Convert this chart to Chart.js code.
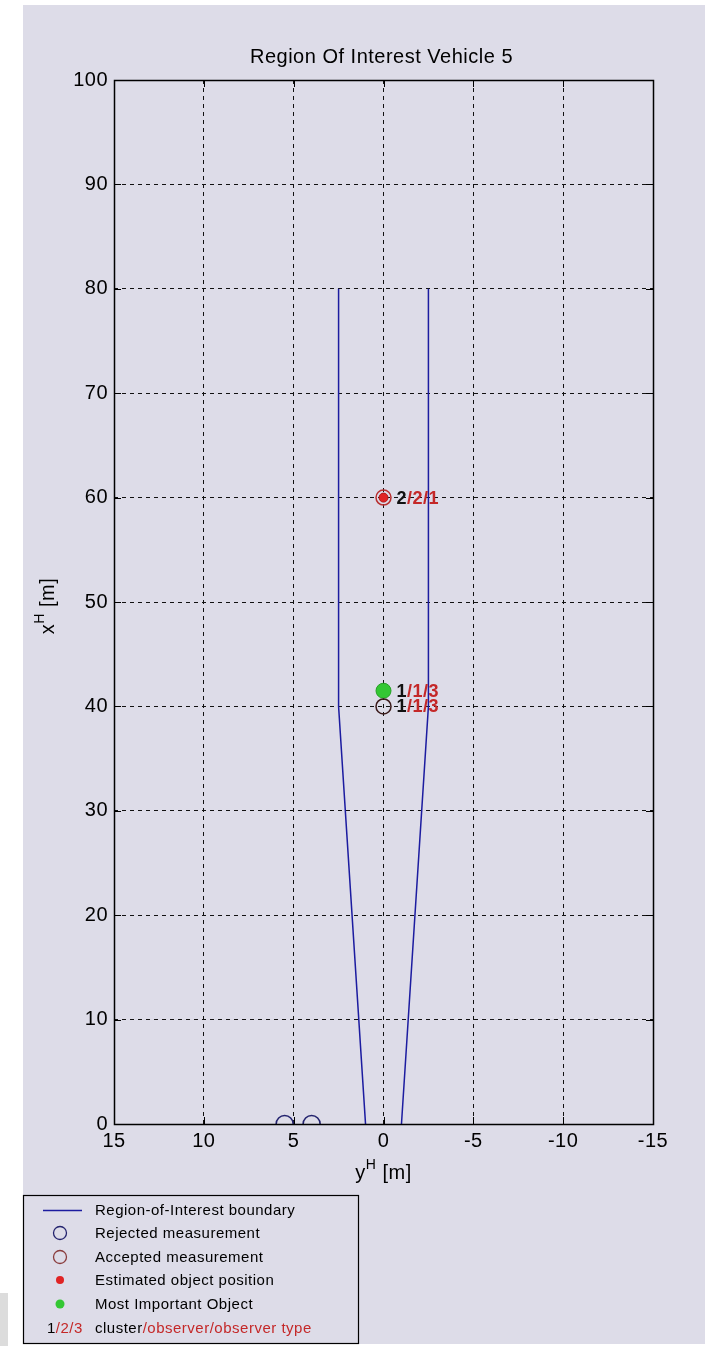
<!DOCTYPE html>
<html>
<head>
<meta charset="utf-8">
<script src="https://cdn.jsdelivr.net/npm/chart.js@4.4.1/dist/chart.umd.min.js"></script>
<style>
  html, body { margin: 0; padding: 0; background: #ffffff; }
  #wrap { width: 706px; height: 1346px; }
  canvas { display: block; }
</style>
</head>
<body>
<div id="wrap"><canvas id="c" width="706" height="1346"></canvas></div>
<script>
// ---- Data (horizontal axis = yH [m], vertical axis = xH [m]) ----
const xTickValues = [15, 10, 5, 0, -5, -10, -15];
const yTickValues = [0, 10, 20, 30, 40, 50, 60, 70, 80, 90, 100];

const roiLeftYH  = [1.0, 2.5, 2.5];
const roiLeftXH  = [0, 40, 80];
const roiRightYH = [-1.0, -2.5, -2.5];
const roiRightXH = [0, 40, 80];

const rejectedYH = [5.5, 4.0];
const rejectedXH = [0, 0];

const acceptedYH = [0, 0];
const acceptedXH = [60, 40];

const estimatedYH = [0];
const estimatedXH = [60];

const mioYH = [0];
const mioXH = [41.5];

const labelYH = [0, 0, 0];
const labelXH = [60, 41.5, 40];
const labelCluster = ['2', '1', '1'];
const labelRest = ['/2/1', '/1/3', '/1/3'];

const legendTexts = [
  'Region-of-Interest boundary',
  'Rejected measurement',
  'Accepted measurement',
  'Estimated object position',
  'Most Important Object'
];

const titleText = 'Region Of Interest Vehicle 5';

// ---- Styles ----
const FONT = '"Liberation Sans", Arial, sans-serif';
const BG = '#dddce8';
const ROI_COLOR = '#1c1ca0';
const REJ_COLOR = '#23236e';
const EST_COLOR = '#e02424';
const MIO_COLOR = '#33c733';
const RED_TXT = '#c42828';

function pts(xs, ys) { return xs.map((v, i) => ({ x: v, y: ys[i] })); }

const datasets = [
  { label: 'ROI left', data: pts(roiLeftYH, roiLeftXH), showLine: true, borderColor: ROI_COLOR, borderWidth: 1.5, pointRadius: 0, fill: false },
  { label: 'ROI right', data: pts(roiRightYH, roiRightXH), showLine: true, borderColor: ROI_COLOR, borderWidth: 1.5, pointRadius: 0, fill: false },
  { label: 'Rejected', data: pts(rejectedYH, rejectedXH), pointRadius: 8.5, pointBackgroundColor: 'rgba(0,0,0,0)', pointBorderColor: REJ_COLOR, pointBorderWidth: 1.6, showLine: false },
  { label: 'Accepted', data: pts(acceptedYH, acceptedXH), pointRadius: 7.5, pointBackgroundColor: 'rgba(0,0,0,0)', pointBorderColor: [ '#b83030', '#3a1a1a' ], pointBorderWidth: 1.5, showLine: false },
  { label: 'Estimated', data: pts(estimatedYH, estimatedXH), pointRadius: 4.5, pointBackgroundColor: EST_COLOR, pointBorderColor: '#b01515', pointBorderWidth: 1, showLine: false },
  { label: 'MIO', data: pts(mioYH, mioXH), pointRadius: 7.5, pointBackgroundColor: MIO_COLOR, pointBorderColor: '#25a025', pointBorderWidth: 1, showLine: false }
];

const decor = {
  id: 'decor',
  beforeDraw(chart) {
    const ctx = chart.ctx;
    ctx.save();
    ctx.fillStyle = '#ffffff';
    ctx.fillRect(0, 0, 706, 1346);
    ctx.fillStyle = BG;
    ctx.fillRect(23, 5, 682, 1339);
    ctx.fillStyle = '#dcdcdc';
    ctx.fillRect(0, 1293, 8, 53);
    ctx.restore();
    try { ctx.letterSpacing = '0.5px'; } catch (e) {}
  },
  afterDraw(chart) {
    const ctx = chart.ctx;
    const a = chart.chartArea;
    const xs = chart.scales.x, ys = chart.scales.y;
    ctx.save();
    try { ctx.letterSpacing = '0px'; } catch (e) {}
    // axes box
    ctx.strokeStyle = '#000';
    ctx.lineWidth = 1.5;
    ctx.setLineDash([]);
    ctx.strokeRect(Math.round(a.left) + 0.5, Math.round(a.top) + 0.5, Math.round(a.right - a.left), Math.round(a.bottom - a.top));
    // inward ticks
    ctx.lineWidth = 1;
    const T = 7;
    ctx.beginPath();
    xTickValues.forEach(v => {
      const px = Math.round(xs.getPixelForValue(v)) + 0.5;
      ctx.moveTo(px, a.bottom); ctx.lineTo(px, a.bottom - T);
      ctx.moveTo(px, a.top); ctx.lineTo(px, a.top + T);
    });
    yTickValues.forEach(v => {
      const py = Math.round(ys.getPixelForValue(v)) + 0.5;
      ctx.moveTo(a.left, py); ctx.lineTo(a.left + T, py);
      ctx.moveTo(a.right, py); ctx.lineTo(a.right - T, py);
    });
    ctx.stroke();

    // title
    try { ctx.letterSpacing = '0.5px'; } catch (e) {}
    ctx.fillStyle = '#000';
    ctx.font = '20px ' + FONT;
    ctx.textAlign = 'center';
    ctx.textBaseline = 'middle';
    ctx.fillText(titleText, (a.left + a.right) / 2 - 2, 57);

    // axis titles with superscript
    function supTitle(base, sup, rest, cx, baseY) {
      ctx.textAlign = 'left';
      ctx.textBaseline = 'alphabetic';
      ctx.font = '20px ' + FONT;
      const w1 = ctx.measureText(base).width;
      const w3 = ctx.measureText(rest).width;
      ctx.font = '14px ' + FONT;
      const w2 = ctx.measureText(sup).width;
      const total = w1 + w2 + w3;
      let x = cx - total / 2;
      ctx.font = '20px ' + FONT;
      ctx.fillText(base, x, baseY); x += w1;
      ctx.font = '14px ' + FONT;
      ctx.fillText(sup, x, baseY - 10); x += w2;
      ctx.font = '20px ' + FONT;
      ctx.fillText(rest, x, baseY);
    }
    ctx.fillStyle = '#000';
    supTitle('y', 'H', ' [m]', (a.left + a.right) / 2, 1179);
    ctx.save();
    ctx.translate(54, (a.top + a.bottom) / 2 + 4);
    ctx.rotate(-Math.PI / 2);
    supTitle('x', 'H', ' [m]', 0, 0);
    ctx.restore();

    // point labels cluster/observer/type
    try { ctx.letterSpacing = '0.5px'; } catch (e) {}
    ctx.textBaseline = 'middle';
    ctx.textAlign = 'left';
    ctx.font = 'bold 18px ' + FONT;
    labelXH.forEach((v, i) => {
      const px = xs.getPixelForValue(labelYH[i]) + 13;
      const py = ys.getPixelForValue(v) + 1;
      ctx.fillStyle = '#111';
      ctx.fillText(labelCluster[i], px, py);
      const w = ctx.measureText(labelCluster[i]).width;
      ctx.fillStyle = RED_TXT;
      ctx.fillText(labelRest[i], px + w, py);
    });

    // legend
    const L = { left: 23.5, top: 1195.5, w: 335, h: 148 };
    ctx.strokeStyle = '#000';
    ctx.lineWidth = 1.2;
    ctx.strokeRect(L.left, L.top, L.w, L.h);
    const rows = [1210, 1233, 1257, 1280, 1304, 1328];
    const sx = 60, tx = 95;
    try { ctx.letterSpacing = '0.5px'; } catch (e) {}
    ctx.font = '15px ' + FONT;
    ctx.textAlign = 'left';
    ctx.textBaseline = 'middle';
    ctx.fillStyle = '#000';
    legendTexts.forEach((t, i) => ctx.fillText(t, tx, rows[i] + 1));
    // symbols
    ctx.strokeStyle = ROI_COLOR; ctx.lineWidth = 1.5;
    ctx.beginPath(); ctx.moveTo(43, rows[0] + 0.5); ctx.lineTo(82, rows[0] + 0.5); ctx.stroke();
    ctx.strokeStyle = REJ_COLOR; ctx.lineWidth = 1.3;
    ctx.beginPath(); ctx.arc(sx, rows[1], 6.5, 0, Math.PI * 2); ctx.stroke();
    ctx.strokeStyle = '#8a3c3c';
    ctx.beginPath(); ctx.arc(sx, rows[2], 6.5, 0, Math.PI * 2); ctx.stroke();
    ctx.fillStyle = EST_COLOR;
    ctx.beginPath(); ctx.arc(sx, rows[3], 4, 0, Math.PI * 2); ctx.fill();
    ctx.fillStyle = MIO_COLOR;
    ctx.beginPath(); ctx.arc(sx, rows[4], 4.5, 0, Math.PI * 2); ctx.fill();
    // last row: 1/2/3 cluster/observer/observer type
    let x = 47;
    const y5 = rows[5] + 1;
    ctx.fillStyle = '#000'; ctx.fillText('1', x, y5); x += ctx.measureText('1').width;
    ctx.fillStyle = RED_TXT; ctx.fillText('/2/3', x, y5);
    x = tx;
    ctx.fillStyle = '#000'; ctx.fillText('cluster', x, y5); x += ctx.measureText('cluster').width;
    ctx.fillStyle = RED_TXT; ctx.fillText('/observer/observer type', x, y5);
    ctx.restore();
  }
};

const gridColor = edges => (c) => (c.tick && edges.includes(c.tick.value)) ? 'rgba(0,0,0,0)' : '#111';

new Chart(document.getElementById('c'), {
  type: 'scatter',
  data: { datasets },
  options: {
    responsive: false,
    devicePixelRatio: 1,
    animation: false,
    layout: { padding: { left: 0, top: 80, right: 53, bottom: 0 } },
    plugins: { legend: { display: false }, tooltip: { enabled: false }, title: { display: false } },
    scales: {
      x: {
        type: 'linear', reverse: true, min: -15, max: 15,
        afterBuildTicks: s => { s.ticks = xTickValues.map(v => ({ value: v })); },
        afterFit: s => { s.height = 222; },
        ticks: { color: '#000', font: { family: FONT, size: 20 }, padding: 5, maxRotation: 0, autoSkip: false },
        grid: { color: gridColor([15, -15]), lineWidth: 1, drawTicks: false },
        border: { display: false, dash: [4, 4] }
      },
      y: {
        type: 'linear', min: 0, max: 100,
        afterBuildTicks: s => { s.ticks = yTickValues.map(v => ({ value: v })); },
        afterFit: s => { s.width = 114; },
        ticks: { color: '#000', font: { family: FONT, size: 20 }, padding: 6, autoSkip: false },
        grid: { color: gridColor([0, 100]), lineWidth: 1, drawTicks: false },
        border: { display: false, dash: [4, 4] }
      }
    }
  },
  plugins: [decor]
});
</script>
</body>
</html>
